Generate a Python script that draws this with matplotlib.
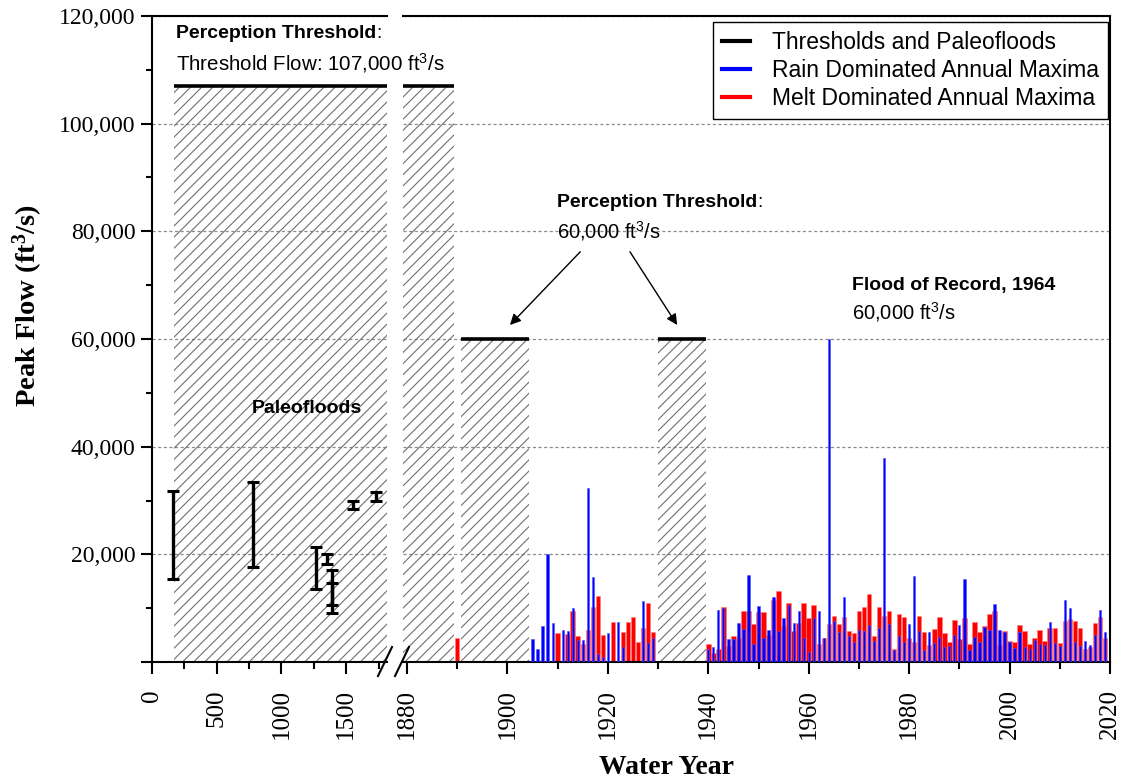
import matplotlib
matplotlib.use('Agg')
import matplotlib.pyplot as plt
from matplotlib.lines import Line2D
from matplotlib.ticker import FuncFormatter, MultipleLocator

# ---- paleoflood ranges (year, low, high) ----
paleo_years = [165, 783, 1265, 1352, 1388, 1388, 1556, 1731]
paleo_low = [15500, 17600, 13500, 18200, 9100, 10500, 28400, 29900]
paleo_high = [31800, 33500, 21400, 20000, 17100, 14700, 29900, 31500]

# ---- perception thresholds: (start year, end year, flow) ----
hist_start = [170]
hist_end = [1815]
hist_flow = [107000]
thr_start = [1879.2, 1890.8, 1929.9]
thr_end = [1889.3, 1904.3, 1939.5]
thr_flow = [107000, 60000, 60000]

# ---- systematic record, rain dominated annual maxima ----
rain_years = [1905, 1906, 1907, 1908, 1909, 1911, 1912, 1913, 1914, 1915,
              1916, 1917, 1918, 1919, 1920, 1922, 1923, 1927, 1928, 1929,
              1940, 1941, 1942, 1943, 1944, 1945, 1946, 1947, 1948, 1949,
              1950, 1951, 1952, 1953, 1954, 1955, 1956, 1957, 1958, 1959,
              1960, 1961, 1962, 1963, 1964, 1965, 1966, 1967, 1968, 1969,
              1970, 1971, 1972, 1973, 1974, 1975, 1976, 1977, 1978, 1979,
              1980, 1981, 1982, 1983, 1984, 1985, 1986, 1987, 1988, 1989,
              1990, 1991, 1992, 1993, 1994, 1995, 1996, 1997, 1998, 1999,
              2000, 2001, 2002, 2003, 2004, 2005, 2006, 2007, 2008, 2009,
              2010, 2011, 2012, 2013, 2014, 2015, 2016, 2017, 2018, 2019]
rain_peak = [4200, 2500, 6700, 20100, 7200, 5900, 5800, 10000, 4000, 4000,
             32400, 15700, 1400, 1000, 5400, 7500, 2700, 11400, 3500, 4500,
             2400, 2700, 9700, 10000, 4300, 4300, 7200, 6100, 16100, 3300,
             10400, 4400, 5900, 12000, 5800, 8200, 10600, 7200, 9400, 4500,
             1900, 8200, 9400, 4500, 60000, 7600, 5500, 12000, 4800, 3800,
             5900, 5800, 6800, 3900, 6400, 37900, 7100, 2200, 4800, 3700,
             7000, 15900, 5800, 2200, 5500, 3500, 4600, 2700, 2900, 5000,
             6900, 15400, 2300, 4600, 3800, 6500, 5900, 10700, 6000, 5600,
             3800, 2600, 5500, 2700, 2400, 4100, 3400, 3200, 7400, 3500,
             2900, 11500, 10000, 3800, 3000, 3900, 3200, 5000, 9700, 5600]

# ---- systematic record, melt dominated annual maxima ----
melt_years = [1890, 1910, 1912, 1913, 1914, 1915, 1916, 1917, 1918, 1919,
              1921, 1923, 1924, 1925, 1926, 1927, 1928, 1929,
              1940, 1941, 1942, 1943, 1944, 1945, 1946, 1947, 1948, 1949,
              1950, 1951, 1952, 1953, 1954, 1955, 1956, 1957, 1958, 1959,
              1960, 1961, 1962, 1963, 1964, 1965, 1966, 1967, 1968, 1969,
              1970, 1971, 1972, 1973, 1974, 1975, 1976, 1977, 1978, 1979,
              1980, 1981, 1982, 1983, 1984, 1985, 1986, 1987, 1988, 1989,
              1990, 1991, 1992, 1993, 1994, 1995, 1996, 1997, 1998, 1999,
              2000, 2001, 2002, 2003, 2004, 2005, 2006, 2007, 2008, 2009,
              2010, 2011, 2012, 2013, 2014, 2015, 2016, 2017, 2018, 2019]
melt_peak = [4400, 5300, 5200, 9400, 4800, 3300, 6000, 10200, 12200, 5000,
             7500, 5500, 7500, 8300, 3800, 6400, 11000, 5600,
             3300, 1600, 2400, 10300, 3000, 4900, 4400, 9400, 9400, 7100,
             9200, 9200, 5100, 11600, 13100, 6600, 10900, 5800, 7200, 10900,
             8200, 10500, 3300, 4400, 7100, 8600, 7100, 8300, 5700, 5300,
             9400, 10300, 12600, 4800, 10200, 8600, 9500, 2500, 8900, 8400,
             4500, 3800, 8500, 5600, 3200, 6100, 8300, 5300, 3700, 7800,
             4300, 8200, 3300, 7400, 5600, 6700, 8900, 9400, 3200, 5800,
             3900, 3800, 6900, 5800, 3300, 4500, 6000, 3900, 6400, 6300,
             3500, 7600, 8000, 7700, 6300, 2500, 2700, 7200, 8400, 4500]

left_ticks = [0, 500, 1000, 1500]
right_ticks = [1880, 1900, 1920, 1940, 1960, 1980, 2000, 2020]

SERIF = 'Liberation Serif'
SANS = 'Liberation Sans'
plt.rcParams['font.family'] = SANS
plt.rcParams['mathtext.default'] = 'regular'
plt.rcParams['hatch.linewidth'] = 0.8

W, H = 1124, 784
fig = plt.figure(figsize=(W / 100, H / 100), dpi=100)
bottom, height = (H - 662) / H, (662 - 16) / H
ax1 = fig.add_axes([152 / W, bottom, (387 - 152) / W, height])
ax2 = fig.add_axes([403 / W, bottom, (1110 - 403) / W, height])

HATCH_COL = '#707070'


def shade(ax, x0, x1, level):
    ax.fill_between([x0, x1], 0, level, facecolor='none', edgecolor=HATCH_COL,
                    hatch='///', linewidth=0, zorder=1)
    ax.hlines(level, x0, x1, color='k', lw=2.6, zorder=4)


for ax in (ax1, ax2):
    ax.set_ylim(0, 120000)
    ax.set_axisbelow(True)
    ax.patch.set_visible(False)
    ax.yaxis.set_major_locator(MultipleLocator(20000))
    ax.yaxis.set_minor_locator(MultipleLocator(10000))
    ax.grid(axis='y', which='major', color='#8c8c8c', lw=0.9, ls=(0, (2.5, 2)))
    for s in ax.spines.values():
        s.set_linewidth(1.5)
    ax.tick_params(axis='x', which='major', direction='out', length=8.5, width=1.5,
                   labelsize=18, labelrotation=90, pad=11)
    ax.tick_params(axis='x', which='minor', direction='out', length=5, width=1.5)

# ---- left panel: paleoflood period ----
ax1.set_xlim(0, 1815)
ax1.spines['right'].set_visible(False)
ax1.set_xticks(left_ticks)
ax1.xaxis.set_minor_locator(MultipleLocator(250))
ax1.tick_params(axis='y', which='major', direction='out', length=8, width=1.5,
                labelsize=17, pad=4)
ax1.tick_params(axis='y', which='minor', direction='out', length=4.5, width=1.5)
ax1.yaxis.set_major_formatter(FuncFormatter(lambda v, p: '' if v == 0 else f'{v:,.0f}'))

for x0, x1, lvl in zip(hist_start, hist_end, hist_flow):
    shade(ax1, x0, x1, lvl)

mid = [(lo + hi) / 2 for lo, hi in zip(paleo_low, paleo_high)]
half = [(hi - lo) / 2 for lo, hi in zip(paleo_low, paleo_high)]
ax1.errorbar(paleo_years, mid, yerr=half, fmt='none', ecolor='k', elinewidth=2.4,
             capsize=4.5, capthick=2.2, zorder=5, clip_on=False)

# ---- right panel: historic + systematic record ----
ax2.set_xlim(1879.2, 2020)
ax2.spines['left'].set_visible(False)
ax2.set_xticks(right_ticks)
ax2.xaxis.set_minor_locator(MultipleLocator(10))
ax2.tick_params(axis='y', which='both', left=False, labelleft=False)

for x0, x1, lvl in zip(thr_start, thr_end, thr_flow):
    shade(ax2, x0, x1, lvl)

ax2.bar(melt_years, melt_peak, width=0.9, color='#ff0000', edgecolor='#ff8080',
        linewidth=0.4, zorder=2)
ax2.bar(rain_years, rain_peak, width=0.45, color='#0000ff', edgecolor='#5555ff',
        linewidth=0.4, zorder=3)

for ax in (ax1, ax2):
    for lab in ax.get_xticklabels() + ax.get_yticklabels():
        lab.set_fontfamily(SERIF)

# ---- axis titles ----
fig.text(28 / W, 1 - 305 / H, 'Peak Flow (ft$^3$/s)', rotation=90, ha='center',
         va='center', fontsize=20.5, fontweight='bold', family=SERIF)
fig.text(667 / W, 1 - 768 / H, 'Water Year', ha='center', va='center',
         fontsize=20, fontweight='bold', family=SERIF)


# ---- annotations ----
def bold_with_colon(ax, x, y, s, size):
    t = ax.text(x, y, s, fontsize=size, fontweight='bold', va='center', ha='left',
                clip_on=False, zorder=6)
    ax.annotate(':', xy=(1, 0.5), xycoords=t, va='center', ha='left', fontsize=size,
                annotation_clip=False, zorder=6)
    return t


bold_with_colon(ax1, 185, 116700, 'Perception Threshold', 14)
ax1.text(185, 111200, 'Threshold Flow: 107,000 ft$^3$/s', fontsize=14.8, va='center',
         ha='left', clip_on=False, zorder=6)
ax1.text(773, 47000, 'Paleofloods', fontsize=14, fontweight='bold', va='center',
         ha='left')

bold_with_colon(ax2, 1909.9, 85300, 'Perception Threshold', 14)
ax2.text(1909.9, 80100, '60,000 ft$^3$/s', fontsize=14.5, va='center', ha='left')
for tip, tail in ((1900.5, 1914.5), (1933.8, 1924.4)):
    ax2.annotate('', xy=(tip, 62600), xytext=(tail, 76200),
                 arrowprops=dict(arrowstyle='-|>', color='k', lw=1.0,
                                 mutation_scale=16, shrinkA=0, shrinkB=0))

ax2.text(1968.6, 70000, 'Flood of Record, 1964', fontsize=14, fontweight='bold',
         va='center', ha='left')
ax2.text(1968.6, 65000, '60,000 ft$^3$/s', fontsize=14.5, va='center', ha='left')

# ---- legend ----
handles = [Line2D([], [], color='k', lw=3),
           Line2D([], [], color='#0000ff', lw=3),
           Line2D([], [], color='#ff0000', lw=3)]
labels = ['Thresholds and Paleofloods', 'Rain Dominated Annual Maxima',
          'Melt Dominated Annual Maxima']
leg = ax2.legend(handles, labels, loc='upper right', bbox_to_anchor=(0.997, 0.991),
                 borderaxespad=0, fontsize=16.5, handlelength=1.2, handletextpad=0.95,
                 labelspacing=0.22, borderpad=0.4, fancybox=False, framealpha=1,
                 edgecolor='k')
leg.get_frame().set_linewidth(1.0)

# ---- axis break marks ----
for xa, xb in ((378, 392), (395, 409)):
    fig.add_artist(Line2D([xa / W, xb / W], [1 - 676 / H, 1 - 647 / H],
                          transform=fig.transFigure, color='k', lw=1.5))

fig.savefig('out.png', dpi=100)
